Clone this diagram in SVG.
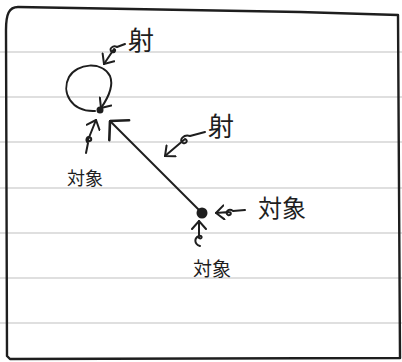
<svg xmlns="http://www.w3.org/2000/svg" width="402" height="362" viewBox="0 0 402 362">
<style>
.rule{stroke:#d4d4d4;stroke-width:1.5}
.ink{fill:none;stroke:#1e1e1e;stroke-width:2;stroke-linecap:round;stroke-linejoin:round}
.lbl{font-family:"Noto Sans CJK JP","Noto Sans CJK SC",sans-serif;fill:#1e1e1e;font-weight:400}
.dot{fill:#1e1e1e}
</style>
<defs>
<marker id="ah" viewBox="0 0 10 16" refX="9" refY="8" markerWidth="10" markerHeight="16" markerUnits="userSpaceOnUse" orient="auto">
<path d="M1,1 L9,8 L1,15" fill="none" stroke="#1e1e1e" stroke-width="2" stroke-linecap="round"/>
</marker>
<marker id="ahBig" viewBox="0 0 16 32" refX="15" refY="16" markerWidth="16" markerHeight="32" markerUnits="userSpaceOnUse" orient="auto">
<path d="M2,2 L15,16 L2,30" fill="none" stroke="#1e1e1e" stroke-width="2.6" stroke-linecap="round"/>
</marker>
</defs>
<rect width="402" height="362" fill="#ffffff"/>
<g id="paper">
<line class="rule" x1="0" y1="52" x2="402" y2="52"/>
<line class="rule" x1="0" y1="97" x2="402" y2="97"/>
<line class="rule" x1="0" y1="142" x2="402" y2="142"/>
<line class="rule" x1="0" y1="188" x2="402" y2="188"/>
<line class="rule" x1="0" y1="233" x2="402" y2="233"/>
<line class="rule" x1="0" y1="278" x2="402" y2="278"/>
<line class="rule" x1="0" y1="323" x2="402" y2="323"/>
<path d="M7,356 L6,30 C6,14 9,7 18,7 L300,12 L398,15 L400,358 L10,359 Z" fill="none" stroke="#1e1e1e" stroke-width="2.4" stroke-linejoin="round"/>
</g>
<g id="connectors">
<path class="ink" d="M95,111 C71,112 61,92 69,77 C77,63 102,61 110,76 C114,86 108,98 101,108" marker-end="url(#ah)"/>
<path class="ink" d="M202,213 L110,121" stroke-width="2.2" marker-end="url(#ahBig)"/>
<path class="ink" d="M125,44 L117,47 C113,45 108,49 112,52 C115,53 116,50 114,49 L104,64" marker-end="url(#ah)"/>
<path class="ink" d="M205,132 L190,136 C184,134 178,140 183,143 C187,144 188,140 185,139 L165,156" marker-end="url(#ah)"/>
<path class="ink" d="M245,210 L233,211 C229,208 224,212 228,215 C231,216 232,212 229,212 L216,213" marker-end="url(#ah)"/>
<path class="ink" d="M86,153 L88,143 C85,140 87,135 91,138 C92,141 89,142 88,140 L96,120" marker-end="url(#ah)"/>
<path class="ink" d="M200,246 C194,244 194,238 199,236 C203,235 202,240 199,238 L199,221" marker-end="url(#ah)"/>
</g>
<g id="nodeA"><circle class="dot" cx="100" cy="110" r="3.5"/></g>
<g id="nodeB"><circle class="dot" cx="202" cy="213" r="5.5"/></g>
<g id="label-top"><text class="lbl" x="141" y="50" font-size="26" text-anchor="middle">射</text></g>
<g id="label-mid"><text class="lbl" x="221" y="136" font-size="26" text-anchor="middle">射</text></g>
<g id="label-right"><text class="lbl" x="282" y="217" font-size="24" text-anchor="middle">対象</text></g>
<g id="label-left"><text class="lbl" x="85" y="185" font-size="18" text-anchor="middle">対象</text></g>
<g id="label-bottom"><text class="lbl" x="212" y="276" font-size="19" text-anchor="middle">対象</text></g>
</svg>
